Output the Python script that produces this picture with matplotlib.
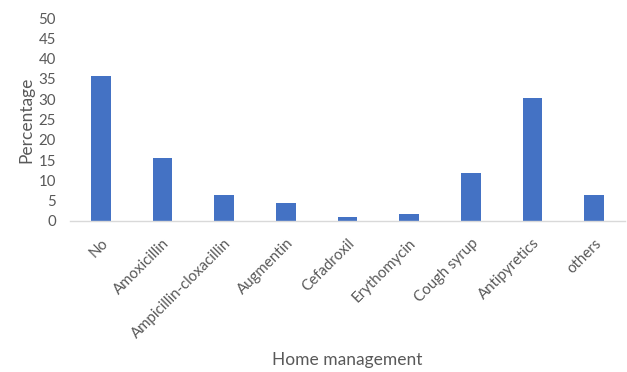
import numpy as np
import matplotlib.pyplot as plt

# Home management categories and reported percentages
categories = ["No", "Amoxicillin", "Ampicillin-cloxacillin", "Augmentin", "Cefadroxil",
              "Erythomycin", "Cough syrup", "Antipyretics", "others"]
percentages = [35.8, 15.5, 6.3, 4.5, 0.9, 1.8, 11.8, 30.3, 6.3]
y_ticks = [0, 5, 10, 15, 20, 25, 30, 35, 40, 45, 50]

plt.rcParams['font.family'] = ['Lato', 'DejaVu Sans']

fig = plt.figure(figsize=(6.27, 3.72), dpi=100)
ax = fig.add_axes([70 / 627, 1 - 221 / 372, 555 / 627, 203 / 372])

x = np.arange(len(categories))
ax.bar(x, percentages, width=0.32, color="#4472C4", zorder=2)

ax.set_xlim(-0.5, len(categories) - 0.5)
ax.set_ylim(0, 50)
ax.set_yticks(y_ticks)
ax.set_xticks(x)
ax.set_xticklabels(categories, rotation=45, ha="right", rotation_mode="anchor")

for side in ["top", "right", "left"]:
    ax.spines[side].set_visible(False)
ax.spines["bottom"].set_color("#d9d9d9")
ax.spines["bottom"].set_linewidth(1.0)

ax.tick_params(axis="both", length=0, labelsize=10.8, colors="#595959")
ax.tick_params(axis="y", pad=10)
ax.tick_params(axis="x", pad=11)

ax.set_ylabel("Percentage", fontsize=12.5, color="#595959", labelpad=3)
ax.set_xlabel("Home management", fontsize=12.5, color="#595959", va="center")
# put the x label well below the rotated tick labels, like the reference
ax.xaxis.set_label_coords(0.5, -0.685)

fig.savefig("out.png", dpi=100)
